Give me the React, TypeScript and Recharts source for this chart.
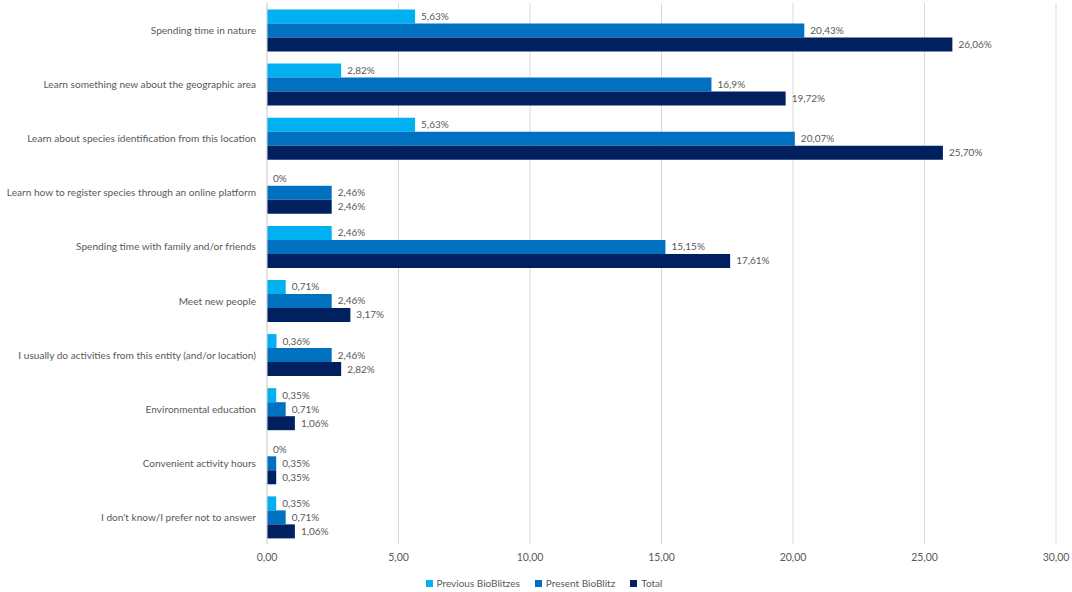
import React from "react";
import { BarChart, Bar, XAxis, YAxis, CartesianGrid, Legend, LabelList } from "recharts";

const categories = [
  "Spending time in nature",
  "Learn something new about the geographic area",
  "Learn about species identification from this location",
  "Learn how to register species through an online platform",
  "Spending time with family and/or friends",
  "Meet new people",
  "I usually do activities from this entity (and/or location)",
  "Environmental education",
  "Convenient activity hours",
  "I don't know/I prefer not to answer",
];

const previousValues = [5.63, 2.82, 5.63, 0, 2.46, 0.71, 0.36, 0.35, 0, 0.35];
const presentValues = [20.43, 16.9, 20.07, 2.46, 15.15, 2.46, 2.46, 0.71, 0.35, 0.71];
const totalValues = [26.06, 19.72, 25.7, 2.46, 17.61, 3.17, 2.82, 1.06, 0.35, 1.06];

const previousLabels = ["5,63%", "2,82%", "5,63%", "0%", "2,46%", "0,71%", "0,36%", "0,35%", "0%", "0,35%"];
const presentLabels = ["20,43%", "16,9%", "20,07%", "2,46%", "15,15%", "2,46%", "2,46%", "0,71%", "0,35%", "0,71%"];
const totalLabels = ["26,06%", "19,72%", "25,70%", "2,46%", "17,61%", "3,17%", "2,82%", "1,06%", "0,35%", "1,06%"];

const xTicks = [0, 5, 10, 15, 20, 25, 30];

const seriesNames = ["Previous BioBlitzes", "Present BioBlitz", "Total"];
const colors = ["#00B0F0", "#0070C0", "#002060"];

const data = categories.map((c, i) => ({
  category: c,
  previous: previousValues[i],
  present: presentValues[i],
  total: totalValues[i],
}));

const FONT = "Lato, 'Open Sans', sans-serif";
const TEXT = "#595959";

const renderLegend = () => (
  <div style={{ display: "flex", justifyContent: "center", gap: 15, fontFamily: FONT, fontSize: 10, color: TEXT, paddingLeft: 16 }}>
    {seriesNames.map((n, i) => (
      <div key={n} style={{ display: "flex", alignItems: "center" }}>
        <span style={{ width: 7, height: 7, background: colors[i], display: "inline-block", marginRight: 4 }} />
        <span>{n}</span>
      </div>
    ))}
  </div>
);

const CategoryTick = (props: any) => {
  const { x, y, payload } = props;
  return (
    <text x={x - 3} y={y} dy={4} textAnchor="end" fill={TEXT} fontSize={10.1} fontFamily={FONT}>
      {payload.value}
    </text>
  );
};

const valueLabel = (labels: string[]) => (props: any) => {
  const { x, y, width, height, index } = props;
  return (
    <text
      x={Number(x) + Number(width) + 6}
      y={Number(y) + Number(height) / 2}
      dy={3.5}
      textAnchor="start"
      fill={TEXT}
      fontSize={10}
      fontFamily={FONT}
    >
      {labels[index]}
    </text>
  );
};

export default function App() {
  return (
    <div style={{ position: "absolute", left: 0, top: 0, width: 1072, height: 592, background: "#fff" }}>
      <BarChart
        width={1072}
        height={592}
        data={data}
        layout="vertical"
        margin={{ top: 3, right: 16, left: 0, bottom: 14 }}
        barCategoryGap="12%"
        barGap={0}
      >
        <CartesianGrid horizontal={false} vertical={true} stroke="#D9D9D9" />
        <XAxis
          type="number"
          domain={[0, 30]}
          ticks={xTicks}
          tickFormatter={(v: number) => v.toFixed(2).replace(".", ",")}
          axisLine={false}
          tickLine={false}
          tick={{ fill: TEXT, fontSize: 10.5, fontFamily: FONT }}
          tickMargin={4}
          height={22}
        />
        <YAxis
          type="category"
          dataKey="category"
          width={267}
          axisLine={{ stroke: "#D9D9D9" }}
          tickLine={false}
          tick={<CategoryTick />}
          interval={0}
        />
        <Legend
          verticalAlign="bottom"
          content={renderLegend}
          wrapperStyle={{ left: 0, width: 1072, bottom: 3 }}
        />
        <Bar dataKey="previous" name={seriesNames[0]} fill={colors[0]} minPointSize={0.01} isAnimationActive={false}>
          <LabelList dataKey="previous" content={valueLabel(previousLabels)} />
        </Bar>
        <Bar dataKey="present" name={seriesNames[1]} fill={colors[1]} minPointSize={0.01} isAnimationActive={false}>
          <LabelList dataKey="present" content={valueLabel(presentLabels)} />
        </Bar>
        <Bar dataKey="total" name={seriesNames[2]} fill={colors[2]} minPointSize={0.01} isAnimationActive={false}>
          <LabelList dataKey="total" content={valueLabel(totalLabels)} />
        </Bar>
      </BarChart>
    </div>
  );
}
